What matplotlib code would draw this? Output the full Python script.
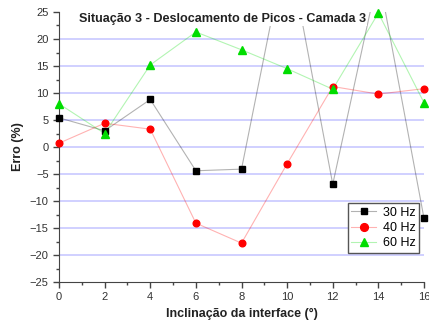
import matplotlib
matplotlib.use("Agg")
import matplotlib.pyplot as plt
from matplotlib.ticker import MultipleLocator

plt.rcParams['font.family'] = ['Liberation Sans', 'DejaVu Sans']

inclinacao = [0, 2, 4, 6, 8, 10, 12, 14, 16]
erro_30hz = [5.4, 3.0, 8.8, -4.4, -4.1, 38.0, -6.9, 32.0, -13.2]
erro_40hz = [0.7, 4.4, 3.3, -14.1, -17.8, -3.1, 11.2, 9.8, 10.8]
erro_60hz = [8.0, 2.5, 15.2, 21.3, 18.0, 14.5, 10.7, 24.8, 8.2]

fig = plt.figure(figsize=(4.29, 3.31), dpi=100)
ax = fig.add_axes([59 / 429, 1 - 282 / 331, 365 / 429, 270 / 331])

for v in [-20, -15, -10, -5, 0, 5, 10, 15, 20]:
    ax.axhline(v, color='#c8c8ff', lw=1.2, zorder=0)

series = [
    (erro_30hz, 'black', 's', 3.8, '30 Hz'),
    (erro_40hz, 'red', 'o', 4.8, '40 Hz'),
    (erro_60hz, '#00dd00', '^', 5.2, '60 Hz'),
]
handles = []
for vals, c, mk, ms, lab in series:
    ax.plot(inclinacao, vals, color=c, lw=0.8, alpha=0.3, zorder=2)
    ax.plot(inclinacao, vals, ls='none', marker=mk, ms=ms, color=c, zorder=3,
            clip_on=False)
    h, = ax.plot([], [], color=matplotlib.colors.to_rgba(c, 0.3), lw=0.8,
                 marker=mk, ms=ms + 0.8, markerfacecolor=c, markeredgecolor=c)
    handles.append((h, lab))

ax.set_xlim(0, 16)
ax.set_ylim(-25, 25)
ax.xaxis.set_major_locator(MultipleLocator(2))
ax.xaxis.set_minor_locator(MultipleLocator(1))
ax.yaxis.set_major_locator(MultipleLocator(5))
ax.yaxis.set_minor_locator(MultipleLocator(2.5))
ax.spines['top'].set_visible(False)
ax.spines['right'].set_visible(False)
ax.spines['left'].set_color('#444444')
ax.spines['bottom'].set_color('#444444')
ax.tick_params(which='major', direction='out', length=4, width=1, color='#444444',
               labelsize=8, labelcolor='#333333')
ax.tick_params(which='minor', direction='out', length=2.5, width=1, color='#444444')

ax.text(0.447, 0.998, 'Situação 3 - Deslocamento de Picos - Camada 3',
        transform=ax.transAxes, ha='center', va='top', fontsize=9.1,
        fontweight='bold', color='#222222', zorder=4,
        bbox=dict(facecolor='white', edgecolor='none', pad=1.0))
ax.set_xlabel('Inclinação da interface (°)', fontsize=9, fontweight='bold', color='#222222')
ax.set_ylabel('Erro (%)', fontsize=9, fontweight='bold', color='#222222')

leg = ax.legend([h for h, _ in handles], [l for _, l in handles],
                loc='lower right', bbox_to_anchor=(1.004, 0.085), fontsize=9,
                frameon=True, fancybox=False, edgecolor='#555555', framealpha=1,
                handlelength=2.0, borderpad=0.3, labelspacing=0.25, handletextpad=0.5)
leg.get_frame().set_linewidth(1)
leg.set_zorder(5)

fig.savefig('out.png', dpi=100)
